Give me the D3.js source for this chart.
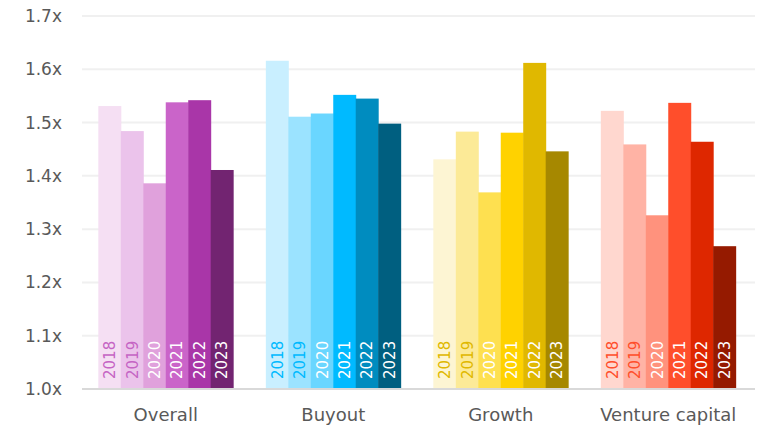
<!DOCTYPE html>
<html>
<head>
<meta charset="utf-8">
<script src="https://cdn.jsdelivr.net/npm/d3@7"></script>
<style>
  html, body { margin: 0; padding: 0; background: #fff; }
  svg { display: block; font-family: "DejaVu Sans", sans-serif; }
</style>
</head>
<body>
<svg id="chart" width="760" height="428"></svg>
<script>
// chart data
var categories = ['Overall', 'Buyout', 'Growth', 'Venture capital'];
var years = ['2018', '2019', '2020', '2021', '2022', '2023'];
var overall = [1.531, 1.484, 1.386, 1.538, 1.542, 1.411];
var buyout = [1.616, 1.511, 1.517, 1.552, 1.545, 1.498];
var growth = [1.431, 1.483, 1.369, 1.481, 1.612, 1.446];
var venture = [1.522, 1.459, 1.326, 1.537, 1.464, 1.268];
var yTicks = [1.0, 1.1, 1.2, 1.3, 1.4, 1.5, 1.6, 1.7];

var seriesByCat = [overall, buyout, growth, venture];

// one ramp of shades per category, light to dark
var palettes = [
  ['#F5DFF3', '#EBC3EB', '#E0A1DC', '#CA64C9', '#A936A8', '#722471'],
  ['#C9EFFF', '#9BE3FF', '#6AD6FF', '#00BAFF', '#008CBF', '#005F80'],
  ['#FDF5D3', '#FCEA97', '#FEE050', '#FFD200', '#E0B800', '#A68800'],
  ['#FFD7CF', '#FFB3A5', '#FF927D', '#FF4E2B', '#DE2700', '#951A00']
];
var labelDark = ['#C564C4', '#00BAFF', '#E0B800', '#FF4E2B'];

var svg = d3.select('#chart');
// plot edges (note: "top" is taken by window.top)
var plotLeft = 82, plotRight = 752, plotTop = 16, plotBottom = 389;

var x0 = d3.scaleBand()
  .domain(categories)
  .range([plotLeft, plotRight])
  .paddingInner(0.195)
  .paddingOuter(0.0975);

var x1 = d3.scaleBand()
  .domain(years)
  .range([0, x0.bandwidth()])
  .padding(0);

var y = d3.scaleLinear()
  .domain([1.0, 1.7])
  .range([plotBottom, plotTop]);

// gridlines
svg.append('g')
  .selectAll('line')
  .data(yTicks.slice(1))
  .enter().append('line')
    .attr('x1', plotLeft)
    .attr('x2', plotRight + 3)
    .attr('y1', function(d) { return y(d); })
    .attr('y2', function(d) { return y(d); })
    .attr('stroke', '#F0F0F0')
    .attr('stroke-width', 2);

// y axis labels
var yAxis = d3.axisLeft(y)
  .tickValues(yTicks)
  .tickSize(0)
  .tickPadding(20)
  .tickFormat(function(d) { return d3.format('.1f')(d) + 'x'; });

var yAxisEle = svg.append('g')
  .attr('transform', 'translate(' + plotLeft + ',0)')
  .call(yAxis);
yAxisEle.select('.domain').remove();
yAxisEle.selectAll('text')
  .attr('fill', '#595959')
  .style('font-size', '17px')
  .style('font-family', '"DejaVu Sans", sans-serif');

// bars
var groups = svg.append('g')
  .selectAll('g.cat')
  .data(categories)
  .enter().append('g')
    .classed('cat', true)
    .attr('transform', function(d) { return 'translate(' + x0(d) + ',0)'; });

groups.each(function(cat, ci) {
  var g = d3.select(this);
  var rows = years.map(function(yr, i) { return { year: yr, value: seriesByCat[ci][i], i: i }; });

  g.selectAll('rect')
    .data(rows)
    .enter().append('rect')
      .attr('x', function(d) { return x1(d.year); })
      .attr('width', x1.bandwidth() + 0.5)
      .attr('y', function(d) { return y(d.value); })
      .attr('height', function(d) { return y(1.0) - y(d.value); })
      .attr('fill', function(d) { return palettes[ci][d.i]; });

  g.selectAll('text')
    .data(rows)
    .enter().append('text')
      .attr('transform', function(d) {
        return 'translate(' + (x1(d.year) + x1.bandwidth() / 2 + 5.5) + ',' + (plotBottom - 10) + ')rotate(-90)';
      })
      .attr('fill', function(d) { return d.i < 2 ? labelDark[ci] : '#FFFFFF'; })
      .style('font-size', '15px')
      .text(function(d) { return d.year; });
});

// x axis line
svg.append('line')
  .attr('x1', plotLeft)
  .attr('x2', plotRight + 3)
  .attr('y1', plotBottom)
  .attr('y2', plotBottom)
  .attr('stroke', '#D9D9D9')
  .attr('stroke-width', 2);

// category labels
svg.append('g')
  .selectAll('text')
  .data(categories)
  .enter().append('text')
    .attr('x', function(d) { return x0(d) + x0.bandwidth() / 2; })
    .attr('y', 421)
    .attr('text-anchor', 'middle')
    .attr('fill', '#595959')
    .style('font-size', '18px')
    .text(function(d) { return d; });
</script>
</body>
</html>
